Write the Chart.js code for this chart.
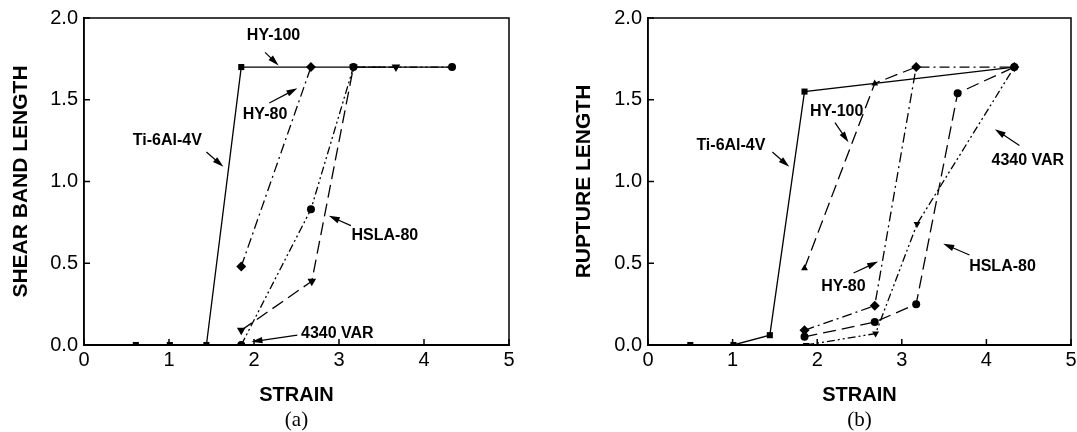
<!DOCTYPE html>
<html>
<head>
<meta charset="utf-8">
<script src="https://cdn.jsdelivr.net/npm/chart.js@4.4.0/dist/chart.umd.min.js"></script>
<style>
  html, body { margin: 0; padding: 0; background: #fff; }
  #wrap { position: relative; width: 1077px; height: 432px; overflow: hidden; }
  canvas { position: absolute; top: 0; }
  #chartA { left: 0; }
  #chartB { left: 540px; }
</style>
</head>
<body>
<div id="wrap">
  <canvas id="chartA" width="540" height="432"></canvas>
  <canvas id="chartB" width="560" height="432"></canvas>
</div>
<script>
// panel (a): shear band length vs strain
const tiStrainA = [0.61, 1.01, 1.44, 1.85];
const tiShearA = [0, 0, 0, 1.7];
const hy100StrainA = [1.85, 2.67, 3.17, 3.67, 4.33];
const hy100ShearA = [1.7, 1.7, 1.7, 1.7, 1.7];
const hy80StrainA = [1.85, 2.67];
const hy80ShearA = [0.48, 1.7];
const hslaStrainA = [1.85, 2.68, 3.17, 3.67];
const hslaShearA = [0.09, 0.39, 1.7, 1.7];
const varStrainA = [1.85, 2.67, 3.17, 4.33];
const varShearA = [0, 0.83, 1.7, 1.7];

// panel (b): rupture length vs strain
const tiStrainB = [0.5, 1.01, 1.44, 1.85, 4.33];
const tiRuptureB = [0, 0, 0.06, 1.55, 1.7];
const hy100StrainB = [1.85, 2.68, 3.17];
const hy100RuptureB = [0.47, 1.6, 1.7];
const hy80StrainB = [1.85, 2.68, 3.17, 4.33];
const hy80RuptureB = [0.09, 0.24, 1.7, 1.7];
const hslaStrainB = [1.85, 2.68, 3.17, 3.66, 4.33];
const hslaRuptureB = [0.05, 0.14, 0.25, 1.54, 1.7];
const varStrainB = [1.87, 2.69, 3.18, 4.33];
const varRuptureB = [0, 0.07, 0.74, 1.7];

const xTicks = [0, 1, 2, 3, 4, 5];
const yTicks = [0, 0.5, 1.0, 1.5, 2.0];

// label text, label centre, arrow tail, arrow head (data units)
const notesA = [
  { text: 'HY-100', at: [2.23, 1.89], from: [2.13, 1.79], to: [2.29, 1.71] },
  { text: 'HY-80', at: [2.13, 1.41], from: [2.18, 1.48], to: [2.51, 1.57] },
  { text: 'Ti-6Al-4V', at: [0.98, 1.25], from: [1.44, 1.18], to: [1.64, 1.09] },
  { text: 'HSLA-80', at: [3.54, 0.67], from: [3.14, 0.73], to: [2.88, 0.79] },
  { text: '4340 VAR', at: [2.98, 0.07], from: [2.51, 0.06], to: [1.97, 0.02] }
];
const notesB = [
  { text: 'HY-100', at: [2.23, 1.43], from: [2.21, 1.36], to: [2.37, 1.24] },
  { text: 'Ti-6Al-4V', at: [0.98, 1.22], from: [1.47, 1.18], to: [1.67, 1.09] },
  { text: 'HY-80', at: [2.31, 0.36], from: [2.43, 0.44], to: [2.72, 0.51] },
  { text: '4340 VAR', at: [4.49, 1.13], from: [4.39, 1.22], to: [4.10, 1.32] },
  { text: 'HSLA-80', at: [4.19, 0.48], from: [3.80, 0.55], to: [3.49, 0.62] }
];

const SANS = '"Liberation Sans", Arial, sans-serif';
const SERIF = '"Liberation Serif", "Times New Roman", serif';

const solid = [];
const longDash = [13, 6];
const dashDot = [10, 4, 2, 4];
const dashDotDot = [8, 3, 2, 3, 2, 3];

function pts(xs, ys) {
  return xs.map((x, i) => ({ x: x, y: ys[i] }));
}

function series(label, xs, ys, dash, style, radius, rotation) {
  return {
    label: label,
    data: pts(xs, ys),
    borderColor: '#000',
    backgroundColor: '#000',
    borderWidth: 1.3,
    borderDash: dash,
    pointStyle: style,
    pointRadius: radius,
    pointRotation: rotation || 0,
    pointBorderWidth: 0,
    tension: 0
  };
}

function drawArrow(ctx, x1, y1, x2, y2) {
  const ang = Math.atan2(y2 - y1, x2 - x1);
  const len = 11, half = 3.2;
  ctx.beginPath();
  ctx.moveTo(x1, y1);
  ctx.lineTo(x2 - Math.cos(ang) * len * 0.6, y2 - Math.sin(ang) * len * 0.6);
  ctx.stroke();
  ctx.beginPath();
  ctx.moveTo(x2, y2);
  ctx.lineTo(x2 - Math.cos(ang) * len - Math.sin(ang) * half, y2 - Math.sin(ang) * len + Math.cos(ang) * half);
  ctx.lineTo(x2 - Math.cos(ang) * len + Math.sin(ang) * half, y2 - Math.sin(ang) * len - Math.cos(ang) * half);
  ctx.closePath();
  ctx.fill();
}

function framePlugin(notes, caption) {
  return {
    id: 'frame',
    afterDraw(chart) {
      const { ctx, chartArea: a, scales: { x, y } } = chart;
      ctx.save();
      ctx.strokeStyle = '#000';
      ctx.fillStyle = '#000';
      ctx.lineWidth = 1.5;
      ctx.setLineDash([]);
      ctx.strokeRect(a.left, a.top, a.right - a.left, a.bottom - a.top);
      xTicks.forEach(v => {
        const px = x.getPixelForValue(v);
        ctx.beginPath(); ctx.moveTo(px, a.bottom); ctx.lineTo(px, a.bottom - 6); ctx.stroke();
      });
      yTicks.forEach(v => {
        const py = y.getPixelForValue(v);
        ctx.beginPath(); ctx.moveTo(a.left, py); ctx.lineTo(a.left + 6, py); ctx.stroke();
      });
      ctx.lineWidth = 1.2;
      notes.forEach(n => {
        drawArrow(ctx, x.getPixelForValue(n.from[0]), y.getPixelForValue(n.from[1]),
          x.getPixelForValue(n.to[0]), y.getPixelForValue(n.to[1]));
      });
      ctx.font = 'bold 16px ' + SANS;
      ctx.textAlign = 'center';
      ctx.textBaseline = 'middle';
      notes.forEach(n => {
        ctx.fillText(n.text, x.getPixelForValue(n.at[0]), y.getPixelForValue(n.at[1]));
      });
      ctx.font = '21px ' + SERIF;
      ctx.fillText(caption, (a.left + a.right) / 2, 420);
      ctx.restore();
    }
  };
}

function makeChart(id, datasets, yTitle, yTitlePad, yWidth, xHeight, pad, notes, caption) {
  return new Chart(document.getElementById(id), {
    type: 'line',
    data: { datasets: datasets },
    options: {
      responsive: false,
      animation: false,
      layout: { padding: pad },
      plugins: { legend: { display: false }, tooltip: { enabled: false } },
      scales: {
        x: {
          type: 'linear', min: 0, max: 5,
          afterBuildTicks: s => { s.ticks = xTicks.map(v => ({ value: v })); },
          afterFit: s => { s.height = xHeight; },
          grid: { display: false, drawTicks: false },
          border: { display: true, color: '#000', width: 2 },
          ticks: { color: '#000', padding: 3, maxRotation: 0, font: { family: SANS, size: 20 } },
          title: {
            display: true, text: 'STRAIN', color: '#000',
            font: { family: SANS, size: 20, weight: 'bold' },
            padding: { top: 0, bottom: 25 }
          }
        },
        y: {
          type: 'linear', min: 0, max: 2,
          afterBuildTicks: s => { s.ticks = yTicks.map(v => ({ value: v })); },
          afterFit: s => { s.width = yWidth; },
          grid: { display: false, drawTicks: false },
          border: { display: true, color: '#000', width: 1.5 },
          ticks: { color: '#000', padding: 6, font: { family: SANS, size: 20 }, callback: v => v.toFixed(1) },
          title: {
            display: true, text: yTitle, color: '#000',
            font: { family: SANS, size: 21, weight: 'bold' },
            padding: { top: yTitlePad, bottom: 0 }
          }
        }
      }
    },
    plugins: [framePlugin(notes, caption)]
  });
}

makeChart('chartA', [
  series('HY-100', hy100StrainA, hy100ShearA, solid, 'circle', 0),
  series('Ti-6Al-4V', tiStrainA, tiShearA, solid, 'rect', 4.3),
  series('HY-80', hy80StrainA, hy80ShearA, dashDot, 'rectRot', 5),
  series('HSLA-80', hslaStrainA, hslaShearA, longDash, 'triangle', 5, 180),
  series('4340 VAR', varStrainA, varShearA, dashDotDot, 'circle', 4)
], 'SHEAR BAND LENGTH', 9, 84, 87, { top: 16, right: 31, left: 0, bottom: 0 }, notesA, '(a)');

makeChart('chartB', [
  series('Ti-6Al-4V', tiStrainB, tiRuptureB, solid, 'rect', 4.3),
  series('HY-100', hy100StrainB, hy100RuptureB, longDash, 'triangle', 4),
  series('HY-80', hy80StrainB, hy80RuptureB, dashDot, 'rectRot', 5),
  series('HSLA-80', hslaStrainB, hslaRuptureB, longDash, 'circle', 4),
  series('4340 VAR', varStrainB, varRuptureB, dashDotDot, 'triangle', 4, 180)
], 'RUPTURE LENGTH', 32, 108, 87, { top: 16, right: 29, left: 0, bottom: 0 }, notesB, '(b)');
</script>
</body>
</html>
